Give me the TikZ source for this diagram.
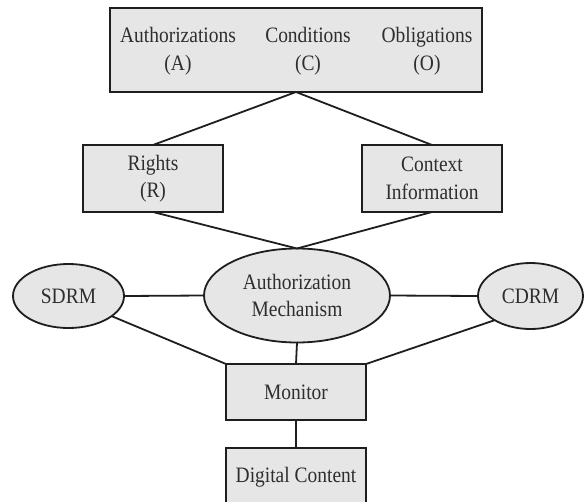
\documentclass[tikz,border=0pt]{standalone}
\usepackage{fontspec}
\setmainfont[FakeStretch=0.885]{Liberation Serif}
\usetikzlibrary{shapes.geometric}
\definecolor{boxfill}{HTML}{E6E6E6}
\definecolor{edge}{HTML}{1E1E1E}
\tikzset{
  every node/.style={font=\fontsize{22}{27.5}\selectfont, text=black!82, inner sep=0pt, outer sep=0pt},
  block/.style={rectangle, draw=edge, fill=boxfill, line width=1.8pt, align=center},
  oval/.style={ellipse, draw=edge, fill=boxfill, line width=1.8pt, align=center},
  label text/.style={align=center},
  link/.style={draw=edge, line width=1.8pt}
}
\begin{document}
\begin{tikzpicture}[x=1pt, y=-1pt]
\useasboundingbox (0,0) rectangle (584,501);
\begin{scope}
\clip (0,0) rectangle (584,501);

% policy components
\node[block, minimum width=372pt, minimum height=84pt] (policy) at (296,50) {};
\node[label text] (auth-a) at (178,51) {Authorizations\\(A)};
\node[label text] (cond-c) at (308,51) {Conditions\\(C)};
\node[label text] (obl-o) at (427,51) {Obligations\\(O)};

% rights and context
\node[block, minimum width=140pt, minimum height=67pt] (rights) at (153,178.5) {Rights\\(R)};
\node[block, minimum width=140pt, minimum height=67pt] (context) at (432,178.5) {Context\\Information};

% authorization layer
\node[oval, minimum width=186pt, minimum height=94pt] (mech) at (297,295.5) {Authorization\\Mechanism};
\node[oval, minimum width=111pt, minimum height=64pt] (sdrm) at (68.5,296) {SDRM};
\node[oval, minimum width=105pt, minimum height=66pt] (cdrm) at (530.5,296) {CDRM};

% enforcement
\node[block, minimum width=140pt, minimum height=56pt] (monitor) at (296,392) {Monitor};
\node[block, minimum width=140pt, minimum height=58pt] (content) at (296,477) {Digital Content};

% connectors
\draw[link] (policy.south) -- (rights.north);
\draw[link] (policy.south) -- (context.north);
\draw[link] (rights.south) -- (mech.north);
\draw[link] (context.south) -- (mech.north);
\draw[link] (sdrm.east) -- (mech.west);
\draw[link] (mech.east) -- (cdrm.west);
\draw[link] (sdrm.-25) -- (monitor.north west);
\draw[link] (cdrm.214) -- (monitor.north east);
\draw[link] (mech.south) -- (monitor.north);
\draw[link] (monitor.south) -- (content.north);
\end{scope}
\end{tikzpicture}
\end{document}
